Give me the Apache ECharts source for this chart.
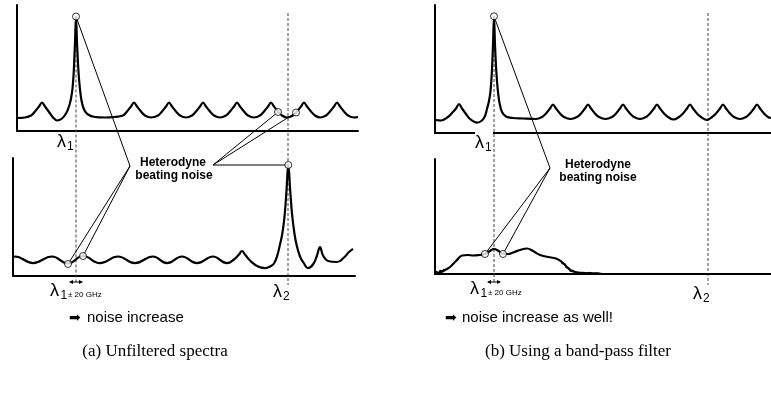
<!DOCTYPE html>
<html>
<head>
<meta charset="utf-8">
<script src="https://cdn.jsdelivr.net/npm/echarts@6/dist/echarts.min.js"></script>
<style>
html, body { margin: 0; padding: 0; background: #fff; }
#main { width: 771px; height: 396px; }
</style>
</head>
<body>
<div id="main"></div>
<script>
// wavelength positions (column units) of the two channels
var lambdaA = [63, 275];
var lambdaB = [59, 273];

// (a) unfiltered - upper spectrum
var spectrumTopA = [
    [4,12.5],[12,13],[18,15],[22,19],[26,24],[29,28],[32,24],[36,18.5],[40,13],[44,10],[49,12],[53,17],[56,24],[58,32],
    [59.5,42],[60.8,60],[62,88],[63,114],[64,88],[65.3,62],[66.7,44],[68.5,30],[71,21],[75,16],[82,13.5],[92,13],[101,13.5],
    [110,15],[114,19],[118,24],[121,28],[124,24],[128,19],[132,15],[138,13],
    [145,15],[149,19],[153,24],[156,28],[159,24],[163,19],[167,15],[173,13],
    [179,15],[183,19],[187,24],[190,28],[193,24],[197,19],[201,15],[207,13],
    [213,15],[217,19],[221,24],[224,28],[227,24],[231,19],[235,15],[241,13],
    [247,15],[251,19],[255,24],[258,28],[261,24],[265,19],[269,15],[274,13],
    [280,15],[284,19],[288,24],[291,28],[294,24],[298,19],[302,15],[307,13],
    [313,15],[317,19],[321,24],[324,28],[327,24],[331,19],[335,15],[341,13],[345,13.5]
];
// (a) unfiltered - lower spectrum
var spectrumBotA = [
    [0,18],[2,19],[20,12.4],[39,19],[55,12],[70,19.5],[87,12.4],[105,19],[122,12.4],[140,19],[154,12.4],[169,19],
    [184,12.4],[200,19],[214,12.4],[221,16],[226,21],[229,24.5],[232,21],[238,14],[245,9],[252,7.4],[258,9.5],[261,12],
    [264,19],[267,31],[269.5,43],[271.8,62],[273.5,85],[275.3,110.5],[277.2,85],[279,62],[281.3,43],[283.5,31],[287,19],
    [291,12],[295,7.4],[300,11],[304,20],[307,28.4],[310,20],[315,14.5],[324,13.5],[331,18],[336,23.5],[340,26.7]
];
// (b) band-pass - upper spectrum
var spectrumTopB = [
    [0,13],[6,12.5],[13,16],[17,20],[21,24.5],[24,29],[27,24.5],[31,19],[35,14],[42,10.4],[47,12.5],[50,17],[52,24],[54,32],
    [55.5,42],[56.8,60],[58,88],[59,116.7],[60,88],[61.3,62],[62.7,44],[64.5,30],[67,21],[71,16.5],[78,15],[88,14.5],[101,14],
    [107,16],[111,19.5],[115,24.5],[118,28.5],[121,24.5],[125,19.5],[129,16],[135.5,14],
    [142,16],[146,19.5],[150,24.5],[153,28.5],[156,24.5],[160,19.5],[164,16],[170.5,14],
    [177,16],[181,19.5],[185,24.5],[188,28.5],[191,24.5],[195,19.5],[199,16],[205,14],
    [211,16],[215,19.5],[219,24.5],[222,28.5],[225,24.5],[229,19.5],[233,16],[238.5,13.5],
    [244,16],[248,19.5],[252,24.5],[255,28.5],[258,24.5],[262,19.5],[266,16],[272,13],
    [277,16],[281,19.5],[285,24.5],[288,28.5],[291,24.5],[295,19.5],[299,16],[305,14],
    [311,16],[315,19.5],[319,24.5],[322,28.5],[325,24.5],[329,19.5],[333,16],[336,15]
];
// (b) band-pass - lower spectrum
var spectrumBotB = [
    [0,0],[5,1.5],[10,4],[15,7],[21,13],[27,18.5],[33,19],[38,18.5],[44,19],[50,20],[55,23],[59,25],[63,23.5],[68,20],
    [73,20],[78,21.5],[85,24],[92,25.5],[98,23],[105,19],[113,17],[121,15.5],[127,12],[132,7],[137,3],[143,1.5],
    [150,1],[160,0.5],[170,0],[336,0]
];
var noiseLeftB = [[0,0],[1,2.5],[2,0.5],[3,3],[4,1],[5,3.5],[6,1.5],[7,4.5],[8,2.5],[9,5]];
var noiseTailB = [
    [126,13],[127,10.5],[128,12],[129,9],[130,10],[131,6.5],[132,8],[133,4.5],[134,6],[135,3],[136,4.5],[137,2],
    [138,3.5],[139,1.5],[140,3],[142,1],[144,2.5],[146,0.5],[148,2],[151,0.5],[154,1.5],[158,0.5],[162,1.2],[167,0.3]
];

// beating-noise markers (circles)
var markTopA = [[63,114],[265,18.5],[283,18]];
var markBotA = [[55,11.5],[70,19.5],[275.3,110.5]];
var markTopB = [[59,116.7]];
var markBotB = [[50,20],[68,20]];

var chart = echarts.init(document.getElementById('main'), null, {renderer: 'canvas'});

var axisLine = {show: true, onZero: true, lineStyle: {color: '#000', width: 2}};
function xAx(grid, min, max) {
    return {type: 'value', gridIndex: grid, min: min, max: max, axisLine: axisLine,
        axisTick: {show: false}, axisLabel: {show: false}, splitLine: {show: false}};
}
function yAx(grid, max) {
    return {type: 'value', gridIndex: grid, min: 0, max: max, axisLine: axisLine,
        axisTick: {show: false}, axisLabel: {show: false}, splitLine: {show: false}};
}
function curve(idx, data, width, smooth) {
    return {type: 'line', xAxisIndex: idx, yAxisIndex: idx, data: data, smooth: smooth,
        symbol: 'none', silent: true, z: 3, lineStyle: {color: '#000', width: width}};
}
function marks(idx, data) {
    return {type: 'scatter', xAxisIndex: idx, yAxisIndex: idx, data: data, symbol: 'circle', symbolSize: 7,
        z: 10, silent: true, itemStyle: {color: '#fff', borderColor: '#000', borderWidth: 1}};
}

var option = {
    animation: false,
    backgroundColor: '#fff',
    grid: [
        {left: 17, top: 5, width: 341, height: 125.5},
        {left: 13, top: 158, width: 342, height: 117.5},
        {left: 435, top: 5, width: 336, height: 128},
        {left: 435, top: 159, width: 336, height: 115}
    ],
    xAxis: [xAx(0, 4, 345), xAx(1, 0, 342), xAx(2, 0, 336), xAx(3, 0, 336)],
    yAxis: [yAx(0, 125.5), yAx(1, 117.5), yAx(2, 128), yAx(3, 115)],
    series: [
        curve(0, spectrumTopA, 2.2, 0.35),
        curve(1, spectrumBotA, 2.2, 0.45),
        curve(2, spectrumTopB, 2.2, 0.35),
        curve(3, spectrumBotB, 2.2, 0.4),
        curve(3, noiseLeftB, 1.6, false),
        curve(3, noiseTailB, 1.3, false),
        marks(0, markTopA),
        marks(1, markBotA),
        marks(2, markTopB),
        marks(3, markBotB)
    ]
};
chart.setOption(option);

// overlay: dashed channel lines, leader lines and text
var g = [];
function P(grid, pt) { return chart.convertToPixel({gridIndex: grid}, pt); }
function seg(a, b, style, z) {
    g.push({type: 'line', z: z || 5, silent: true,
        shape: {x1: a[0], y1: a[1], x2: b[0], y2: b[1]},
        style: Object.assign({stroke: '#000', lineWidth: 1}, style)});
}
function txt(x, y, s, font, align) {
    g.push({type: 'text', z: 20, silent: true, x: x, y: y,
        style: {text: s, font: font, fill: '#000', align: align || 'left', verticalAlign: 'middle',
            textAlign: align || 'left', textVerticalAlign: 'middle'}});
}
var dash = {stroke: '#444', lineWidth: 1, lineDash: [3, 2]};

// column (a)
seg(P(0, [lambdaA[0], 111]), P(1, [lambdaA[0], -6.5]), dash, 1);
seg(P(0, [lambdaA[1], 117.5]), P(1, [lambdaA[1], -9.5]), dash, 1);
// column (b)
seg(P(2, [lambdaB[0], 114]), P(3, [lambdaB[0], -8]), dash, 1);
seg(P(2, [lambdaB[1], 120]), P(3, [lambdaB[1], -11]), dash, 1);

// gap in the upper (b) axis behind the lambda label
g.push({type: 'rect', z: 4, silent: true, shape: {x: 475, y: 130, width: 18, height: 6}, style: {fill: '#fff'}});

// leader lines (a)
var anchorA = [130, 166], anchorB = [213, 165], anchorC = [550, 168];
seg(P(0, markTopA[0]), anchorA);
seg(anchorA, P(1, markBotA[0]));
seg(anchorA, P(1, markBotA[1]));
seg(anchorB, P(0, markTopA[1]));
seg(anchorB, P(0, markTopA[2]));
seg(anchorB, P(1, markBotA[2]));
// leader lines (b)
seg(P(2, markTopB[0]), anchorC);
seg(anchorC, P(3, markBotB[0]));
seg(anchorC, P(3, markBotB[1]));

// +-20 GHz double arrows
function dblArrow(grid, xc, v, half) {
    var c = P(grid, [xc, v]);
    seg([c[0] - half, c[1]], [c[0] + half, c[1]], {lineWidth: 1});
    g.push({type: 'polygon', z: 6, silent: true, shape: {points: [[c[0] - half - 1, c[1]], [c[0] - half + 3, c[1] - 2], [c[0] - half + 3, c[1] + 2]]}, style: {fill: '#000'}});
    g.push({type: 'polygon', z: 6, silent: true, shape: {points: [[c[0] + half + 1, c[1]], [c[0] + half - 3, c[1] - 2], [c[0] + half - 3, c[1] + 2]]}, style: {fill: '#000'}});
}
dblArrow(1, lambdaA[0], -6.5, 6);
dblArrow(3, lambdaB[0], -8, 6);

var fLam = '18px "Liberation Sans", Arial, sans-serif';
var fSub = '12px "Liberation Sans", Arial, sans-serif';
var fSmall = '8px "Liberation Sans", Arial, sans-serif';
var fBold = 'bold 12px "Liberation Sans", Arial, sans-serif';
var fNote = '15px "Liberation Sans", Arial, sans-serif';
var fCap = '17px "Liberation Serif", "Times New Roman", serif';

// (a) labels
txt(57, 142, 'λ', fLam); txt(67, 147, '1', fSub);
txt(173, 163, 'Heterodyne', fBold, 'center');
txt(174, 176, 'beating noise', fBold, 'center');
txt(50, 291, 'λ', fLam); txt(60.5, 296, '1', fSub); txt(68, 295, '± 20 GHz', fSmall);
txt(273, 292, 'λ', fLam); txt(283, 297, '2', fSub);
txt(69, 318, '➡', '14px "DejaVu Sans", sans-serif'); txt(87, 318, 'noise increase', fNote);
txt(155, 352, '(a) Unfiltered spectra', fCap, 'center');

// (b) labels
txt(475, 143, 'λ', fLam); txt(485, 148, '1', fSub);
txt(598, 165, 'Heterodyne', fBold, 'center');
txt(598, 178, 'beating noise', fBold, 'center');
txt(470, 289, 'λ', fLam); txt(480.5, 294, '1', fSub); txt(488, 293, '± 20 GHz', fSmall);
txt(693, 294, 'λ', fLam); txt(703, 299, '2', fSub);
txt(445, 318, '➡', '14px "DejaVu Sans", sans-serif'); txt(462, 318, 'noise increase as well!', fNote);
txt(578, 352, '(b) Using a band-pass filter', fCap, 'center');

chart.setOption({graphic: g});
</script>
</body>
</html>
